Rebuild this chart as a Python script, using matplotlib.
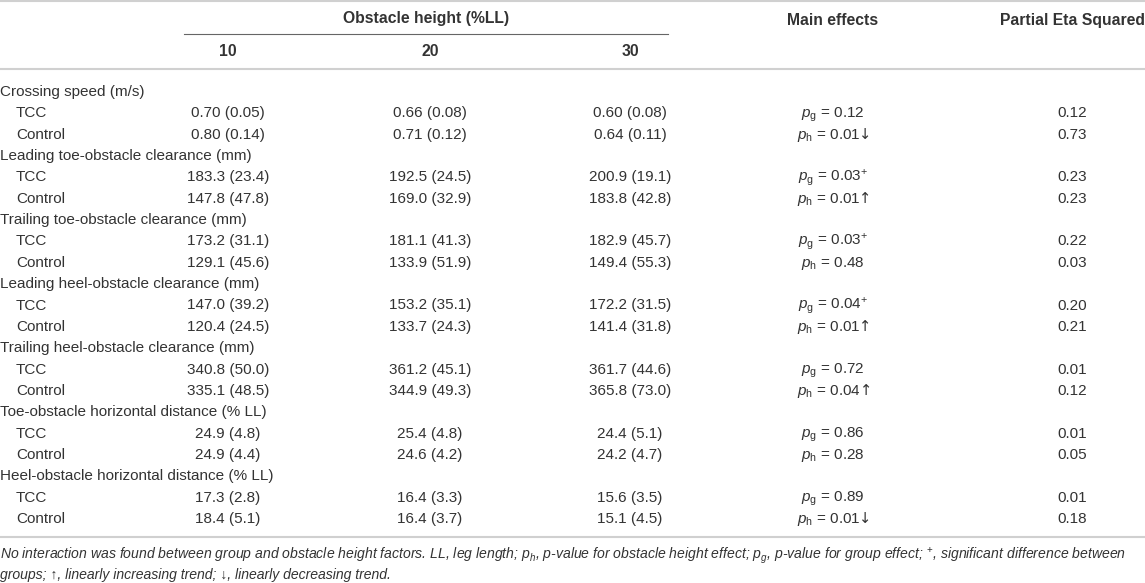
import matplotlib.pyplot as plt

plt.rcParams['font.family'] = ['Liberation Sans', 'DejaVu Sans']
plt.rcParams['mathtext.fontset'] = 'custom'
plt.rcParams['mathtext.rm'] = 'Liberation Sans'
plt.rcParams['mathtext.it'] = 'Liberation Sans:italic'
plt.rcParams['mathtext.bf'] = 'Liberation Sans:bold'

# Daten der Tabelle
heights = ['10', '20', '30']
groups = ['Crossing speed (m/s)',
          'Leading toe-obstacle clearance (mm)',
          'Trailing toe-obstacle clearance (mm)',
          'Leading heel-obstacle clearance (mm)',
          'Trailing heel-obstacle clearance (mm)',
          'Toe-obstacle horizontal distance (% LL)',
          'Heel-obstacle horizontal distance (% LL)']
decimals = [2, 1, 1, 1, 1, 1, 1]

tcc_mean = [[0.70, 0.66, 0.60], [183.3, 192.5, 200.9], [173.2, 181.1, 182.9],
            [147.0, 153.2, 172.2], [340.8, 361.2, 361.7], [24.9, 25.4, 24.4],
            [17.3, 16.4, 15.6]]
tcc_sd = [[0.05, 0.08, 0.08], [23.4, 24.5, 19.1], [31.1, 41.3, 45.7],
          [39.2, 35.1, 31.5], [50.0, 45.1, 44.6], [4.8, 4.8, 5.1],
          [2.8, 3.3, 3.5]]
ctl_mean = [[0.80, 0.71, 0.64], [147.8, 169.0, 183.8], [129.1, 133.9, 149.4],
            [120.4, 133.7, 141.4], [335.1, 344.9, 365.8], [24.9, 24.6, 24.2],
            [18.4, 16.4, 15.1]]
ctl_sd = [[0.14, 0.12, 0.11], [47.8, 32.9, 42.8], [45.6, 51.9, 55.3],
          [24.5, 24.3, 31.8], [48.5, 49.3, 73.0], [4.4, 4.2, 4.7],
          [5.1, 3.7, 4.5]]

pg_vals = ['0.12', '0.03', '0.03', '0.04', '0.72', '0.86', '0.89']
pg_sig = [False, True, True, True, False, False, False]
ph_vals = ['0.01', '0.01', '0.48', '0.01', '0.04', '0.28', '0.01']
ph_trend = ['↓', '↑', '', '↑', '↑', '', '↓']
eta_tcc = ['0.12', '0.23', '0.22', '0.20', '0.01', '0.01', '0.01']
eta_ctl = ['0.73', '0.23', '0.03', '0.21', '0.12', '0.05', '0.18']

fig = plt.figure(figsize=(11.45, 5.83), dpi=100)
ax = fig.add_axes([0, 0, 1, 1])
ax.set_xlim(0, 1145)
ax.set_ylim(583, 0)
ax.axis('off')

txt = '#333333'
fs = 11
fsb = 11.3
base = 5  # Abstand Mitte -> Grundlinie
col_x = [228, 430, 630]
main_x = 833
eta_x = 1072

# Kopfzeile
ax.axhline(1, color='#d0d0d0', lw=1.5)
ax.text(426, 18 + base, 'Obstacle height (%LL)', ha='center', va='baseline',
        fontsize=fsb, fontweight='bold', color=txt)
ax.plot([184, 668], [34, 34], color='#666666', lw=0.8)
for x, h in zip(col_x, heights):
    ax.text(x, 51 + base, h, ha='center', va='baseline', fontsize=fsb,
            fontweight='bold', color=txt)
ax.text(main_x, 20 + base, 'Main effects', ha='center', va='baseline',
        fontsize=fsb, fontweight='bold', color=txt)
ax.text(eta_x, 20 + base, 'Partial Eta Squared', ha='center', va='baseline',
        fontsize=fsb, fontweight='bold', color=txt)
ax.axhline(69, color='#d0d0d0', lw=1.5)

# Zeilen
y0 = 91
dy = 21.35
row = 0
for i, g in enumerate(groups):
    d = decimals[i]
    ax.text(0, y0 + dy * row + base, g, ha='left', va='baseline', fontsize=fs,
            color=txt)
    row += 1
    for name, mean, sd, pstr, etas in [
            ('TCC', tcc_mean, tcc_sd, 'g', eta_tcc),
            ('Control', ctl_mean, ctl_sd, 'h', eta_ctl)]:
        y = y0 + dy * row + base
        ax.text(16, y, name, ha='left', va='baseline', fontsize=fs, color=txt)
        for j, x in enumerate(col_x):
            s = f'{mean[i][j]:.{d}f} ({sd[i][j]:.{d}f})'
            ax.text(x, y, s, ha='center', va='baseline', fontsize=fs,
                    color=txt)
        arrow = ''
        if pstr == 'g':
            s = r'$\mathit{p}_{\mathrm{g}}$ = ' + pg_vals[i]
            if pg_sig[i]:
                s += r'$^{+}$'
        else:
            s = r'$\mathit{p}_{\mathrm{h}}$ = ' + ph_vals[i]
            arrow = ph_trend[i]
        t = ax.text(main_x - (4 if arrow else 0), y, s, ha='center',
                    va='baseline', fontsize=fs, color=txt)
        if arrow:
            ax.annotate(arrow, xy=(1, y), xycoords=(t, 'data'),
                        xytext=(-1, 0), textcoords='offset points',
                        ha='left', va='baseline', fontsize=fs - 0.5,
                        family='DejaVu Sans', color=txt)
        ax.text(eta_x, y, etas[i], ha='center', va='baseline', fontsize=fs,
                color=txt)
        row += 1

ax.axhline(537, color='#d0d0d0', lw=1.5)

# Fussnote
note1 = ('No interaction was found between group and obstacle height factors. '
         'LL, leg length; $p_{h}$, p-value for obstacle height effect; '
         '$p_{g}$, p-value for group effect; $^{+}$, significant difference between')
note2 = 'groups; ↑, linearly increasing trend; ↓, linearly decreasing trend.'
ax.text(0, 555 + 4.5, note1, ha='left', va='baseline', fontsize=10.1,
        style='italic', color=txt)
ax.text(0, 575 + 4.5, note2, ha='left', va='baseline', fontsize=10.1,
        style='italic', color=txt)

fig.savefig('out.png', dpi=100)
